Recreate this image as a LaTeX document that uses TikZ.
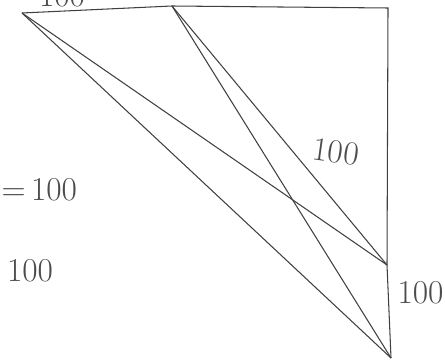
\documentclass[tikz,border=0pt]{standalone}
\usepackage{tikz}
\usetikzlibrary{positioning,arrows.meta}
\usepackage{xcolor}

\begin{document}
\begin{tikzpicture}[x=0.02cm,y=-0.02cm,line width=0.6pt,draw=black!75,
  lbl/.style={font=\fontsize{19}{22}\selectfont,text=black!70,inner sep=0pt}]
\useasboundingbox (0,0) rectangle (445,361);
\coordinate (A) at (22,13);
\coordinate (B) at (172,6);
\coordinate (C) at (388,8);
\coordinate (D) at (387,265);
\coordinate (E) at (391,358);
\draw (A) -- (B) -- (C) -- (D) -- (E);
\draw (A) -- (D);
\draw (A) -- (E);
\draw (B) -- (D);
\draw (B) -- (E);
\node[lbl] (top) at (62,-4) {100};
\node[lbl,anchor=west] (eq) at (1,190) {=\,100};
\node[lbl] (left) at (30,271) {100};
\node[lbl,rotate=-8] (diag) at (336,152) {100};
\node[lbl,anchor=east] (right) at (444,293) {100};
\end{tikzpicture}
\end{document}
